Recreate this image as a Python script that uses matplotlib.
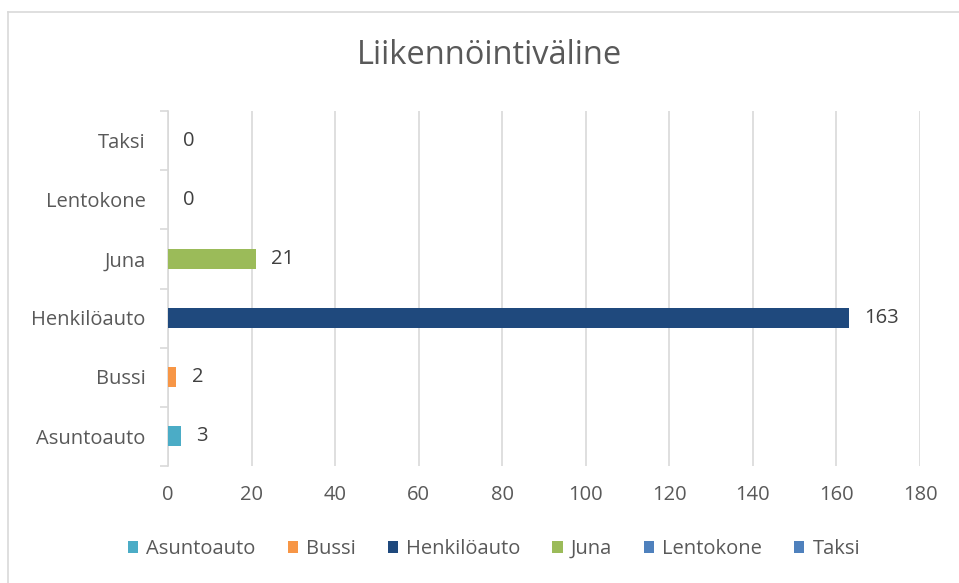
import matplotlib
matplotlib.use("Agg")
import matplotlib.pyplot as plt
from matplotlib.patches import Patch
from matplotlib.lines import Line2D

categories = ["Asuntoauto", "Bussi", "Henkilöauto", "Juna", "Lentokone", "Taksi"]
values = [3, 2, 163, 21, 0, 0]
colors = ["#4BACC6", "#F79646", "#1F497D", "#9BBB59", "#4F81BD", "#4F81BD"]
xticks = [0, 20, 40, 60, 80, 100, 120, 140, 160, 180]
title = "Liikennöintiväline"

plt.rcParams['font.family'] = ['Open Sans', 'DejaVu Sans']
text_color = "#595959"
grid_color = "#D9D9D9"
fs = 14.5

W, H = 959, 583
fig = plt.figure(figsize=(W / 100, H / 100), dpi=100)
fig.patch.set_facecolor("white")

# chart border (top and left visible)
fig.add_artist(Line2D([8 / W, 8 / W], [0, 1 - 12 / H], transform=fig.transFigure, color=grid_color, lw=1.2))
fig.add_artist(Line2D([8 / W, 1], [1 - 12 / H, 1 - 12 / H], transform=fig.transFigure, color=grid_color, lw=1.2))

left, right = 168 / W, 920 / W
top, bottom = 1 - 111.5 / H, 1 - 465.5 / H
ax = fig.add_axes([left, bottom, right - left, top - bottom])

y = list(range(len(categories)))
ax.barh(y, values, height=0.33, color=colors, zorder=3)
for yi, v in zip(y, values):
    ax.annotate(str(v), xy=(v, yi), xytext=(11, 0), textcoords="offset points",
                va="center", ha="left", fontsize=fs, color="#404040")

ax.set_xlim(0, 180)
ax.set_ylim(-0.5, len(categories) - 0.5)
ax.set_xticks(xticks)
ax.set_xticklabels([str(t) for t in xticks], fontsize=fs, color=text_color)
ax.set_yticks(y)
ax.set_yticklabels(categories, fontsize=fs, color=text_color)
ax.tick_params(axis="y", length=0, pad=16)
ax.tick_params(axis="x", length=0, pad=14)
ax.set_yticks([i + 0.5 for i in range(-1, len(categories))], minor=True)
ax.tick_params(axis="y", which="minor", length=6, color=grid_color, width=1.2)

ax.xaxis.grid(True, color=grid_color, lw=1.2, zorder=0)
ax.yaxis.grid(False)
for s in ["top", "right", "bottom"]:
    ax.spines[s].set_visible(False)
ax.spines["left"].set_color(grid_color)
ax.spines["left"].set_linewidth(1.2)

fig.text(489 / W, 1 - 56 / H, title, ha="center", va="center",
         fontsize=23.5, color=text_color)

handles = [Patch(facecolor=c, edgecolor="none") for c in colors]
fig.legend(handles, categories, loc="center", bbox_to_anchor=(494 / W, 1 - 549 / H),
           ncol=6, frameon=False, fontsize=fs, handlelength=0.5, handleheight=0.5,
           handletextpad=0.4, columnspacing=1.6, labelcolor=text_color)

fig.savefig("out.png", dpi=100)
